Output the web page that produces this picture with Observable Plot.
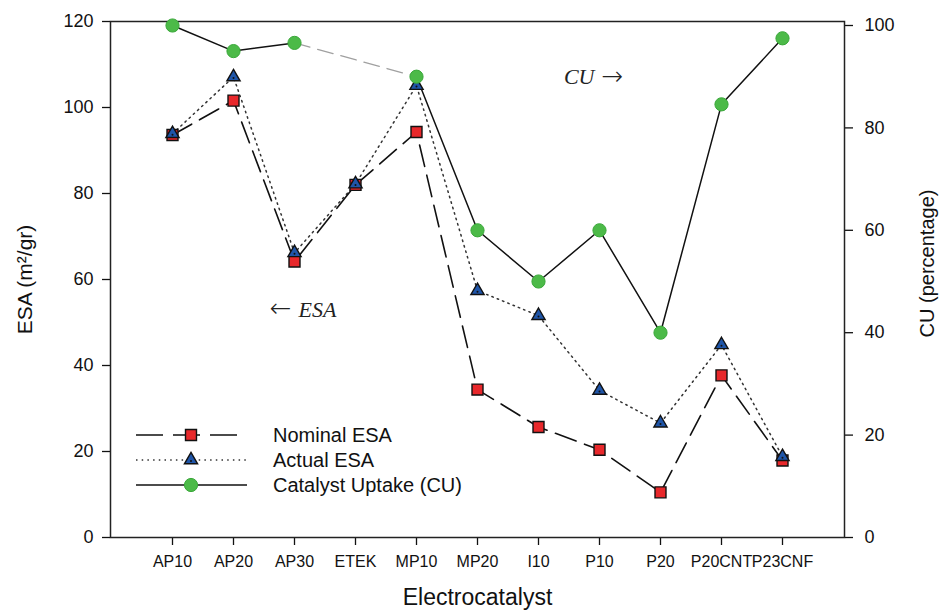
<!DOCTYPE html>
<html>
<head>
<meta charset="utf-8">
<script src="https://cdn.jsdelivr.net/npm/d3@7"></script>
<script src="https://cdn.jsdelivr.net/npm/@observablehq/plot@0.6"></script>
<style>
  html, body { margin: 0; padding: 0; background: #fff; }
  #chart { width: 941px; height: 613px; }
</style>
</head>
<body>
<div id="chart"></div>
<script>
// ---- data ----
const categories = ["AP10","AP20","AP30","ETEK","MP10","MP20","I10","P10","P20","P20CNT","P23CNF"];
const nominalESA = [93.6, 101.6, 64.2, 82.0, 94.3, 34.4, 25.7, 20.4, 10.5, 37.7, 17.9];
const actualESA  = [93.9, 107.1, 66.2, 82.2, 105.1, 57.4, 51.6, 34.2, 26.6, 44.8, 18.8];
const catalystUptake = [100, 95, 96.6, null, 90, 60, 50, 60, 40, 84.6, 97.5];
const esaTicks = [0, 20, 40, 60, 80, 100, 120];
const cuTicks = [0, 20, 40, 60, 80, 100];
const legendLabels = ["Nominal ESA", "Actual ESA", "Catalyst Uptake (CU)"];
const annotationLabels = [
  {cat: "AP30", value: 52.9, text: "ESA", side: "right"},
  {cat: "P10", value: 107, text: "CU", side: "left"}
];
const annotationArrows = [
  {cat: "AP30", value: 52.9, text: "\u2190", side: "left"},
  {cat: "P10", value: 107, text: "\u2192", side: "right"}
];

// CU (right axis, 0..~101) mapped onto ESA scale (0..120)
const K = 1.1907;

const rows = categories.map((c, i) => ({
  cat: c,
  nom: nominalESA[i],
  act: actualESA[i],
  cu: catalystUptake[i] == null ? NaN : catalystUptake[i] * K
}));
// dashed gray bridge across missing CU value
const bridge = [];
catalystUptake.forEach((v, i) => {
  if (v == null) bridge.push(rows[i - 1], rows[i + 1]);
});

const RED = "#e8282b", BLUE = "#1f55a8", GREEN = "#4cba48", GREEN_S = "#3aa83a";

const svg = Plot.plot({
  width: 941,
  height: 613,
  marginLeft: 110,
  marginRight: 97,
  marginTop: 21,
  marginBottom: 76,
  style: {fontFamily: "Liberation Sans, Arial, sans-serif", background: "#fff", color: "#111"},
  x: {type: "point", domain: categories, padding: 1},
  y: {domain: [0, 120]},
  marks: [
    Plot.axisY({anchor: "left", ticks: esaTicks, tickSize: 8, tickPadding: 9, fontSize: 18, label: null, strokeWidth: 1.3}),
    Plot.axisY({anchor: "right", ticks: cuTicks.map(d => d * K), tickFormat: v => String(Math.round(v / K)),
                tickSize: 8, tickPadding: 12, fontSize: 18, label: null, strokeWidth: 1.3}),
    Plot.axisX({tickSize: 8, tickPadding: 10, fontSize: 16, label: null, strokeWidth: 1.3}),
    Plot.frame({stroke: "#222", strokeWidth: 1.5}),

    Plot.line(bridge, {x: "cat", y: "cu", stroke: "#a0a0a0", strokeWidth: 1.3, strokeDasharray: "16,8"}),
    Plot.line(rows, {x: "cat", y: "cu", stroke: "#111", strokeWidth: 1.5}),
    Plot.line(rows, {x: "cat", y: "act", stroke: "#333", strokeWidth: 1.5, strokeDasharray: "1.5,4.2"}),
    Plot.line(rows, {x: "cat", y: "nom", stroke: "#111", strokeWidth: 1.6, strokeDasharray: "22,9"}),

    Plot.dot(rows, {x: "cat", y: "nom", symbol: "square", r: 6.2, fill: RED, stroke: "#111", strokeWidth: 1.4}),
    Plot.dot(rows, {x: "cat", y: "act", symbol: "triangle", r: 4.9, fill: BLUE, stroke: "#111", strokeWidth: 1.4}),
    Plot.dot(rows, {x: "cat", y: "act", r: 1, fill: "#111", dy: 1}),
    Plot.dot(rows, {x: "cat", y: "cu", r: 6.6, fill: GREEN, stroke: GREEN_S, strokeWidth: 1}),

    Plot.text(annotationLabels.filter(d => d.side === "right"), {x: "cat", y: "value", text: "text", dx: 4, textAnchor: "start",
      fontSize: 22, fontStyle: "italic", fontFamily: "Liberation Serif, Times New Roman, serif", fill: "#222"}),
    Plot.text(annotationLabels.filter(d => d.side === "left"), {x: "cat", y: "value", text: "text", dx: -5, textAnchor: "end",
      fontSize: 22, fontStyle: "italic", fontFamily: "Liberation Serif, Times New Roman, serif", fill: "#222"}),
    Plot.text(annotationArrows.filter(d => d.side === "left"), {x: "cat", y: "value", text: "text", dx: -3, dy: -1, textAnchor: "end",
      fontSize: 26, fontFamily: "DejaVu Sans, sans-serif", fontWeight: 300, fill: "#222"}),
    Plot.text(annotationArrows.filter(d => d.side === "right"), {x: "cat", y: "value", text: "text", dx: 2, dy: -1, textAnchor: "start",
      fontSize: 26, fontFamily: "DejaVu Sans, sans-serif", fontWeight: 300, fill: "#222"}),

    Plot.text(["Electrocatalyst"], {frameAnchor: "bottom", dy: 67, fontSize: 23, fill: "#111"}),
    Plot.text(["ESA (m\u00B2/gr)"], {frameAnchor: "left", textAnchor: "middle", dx: -85, rotate: -90, fontSize: 21, fill: "#111"}),
    Plot.text(["CU (percentage)"], {frameAnchor: "right", textAnchor: "middle", dx: 83, dy: -16, rotate: -90, fontSize: 20, fill: "#111"})
  ]
});

// ---- legend ----
const sel = d3.select(svg);
const lg = sel.append("g").attr("class", "legend").attr("text-anchor", "start");
const ly = [435, 460, 485];
const x0 = 136, xm = 191, xt = 273;
// nominal
lg.append("line").attr("x1", x0).attr("x2", 237).attr("y1", ly[0]).attr("y2", ly[0])
  .attr("stroke", "#111").attr("stroke-width", 1.6).attr("stroke-dasharray", "27,10");
lg.append("path").attr("d", d3.symbol(d3.symbolSquare, 6.2 * 6.2 * Math.PI)())
  .attr("transform", `translate(${xm},${ly[0]})`).attr("fill", RED).attr("stroke", "#111").attr("stroke-width", 1.4);
// actual
lg.append("line").attr("x1", x0).attr("x2", 247).attr("y1", ly[1]).attr("y2", ly[1])
  .attr("stroke", "#333").attr("stroke-width", 1.5).attr("stroke-dasharray", "1.5,4.2");
lg.append("path").attr("d", d3.symbol(d3.symbolTriangle, 4.9 * 4.9 * Math.PI)())
  .attr("transform", `translate(${xm},${ly[1]})`).attr("fill", BLUE).attr("stroke", "#111").attr("stroke-width", 1.4);
lg.append("circle").attr("cx", xm).attr("cy", ly[1] + 1).attr("r", 1).attr("fill", "#111");
// CU
lg.append("line").attr("x1", x0).attr("x2", 247).attr("y1", ly[2]).attr("y2", ly[2])
  .attr("stroke", "#111").attr("stroke-width", 1.5);
lg.append("circle").attr("cx", xm).attr("cy", ly[2]).attr("r", 6.6).attr("fill", GREEN).attr("stroke", GREEN_S);
legendLabels.forEach((t, i) => {
  lg.append("text").attr("x", xt).attr("y", ly[i]).attr("dy", "0.35em").attr("text-anchor", "start")
    .attr("font-size", 20).attr("fill", "#111").text(t);
});

document.getElementById("chart").appendChild(svg);
</script>
</body>
</html>
